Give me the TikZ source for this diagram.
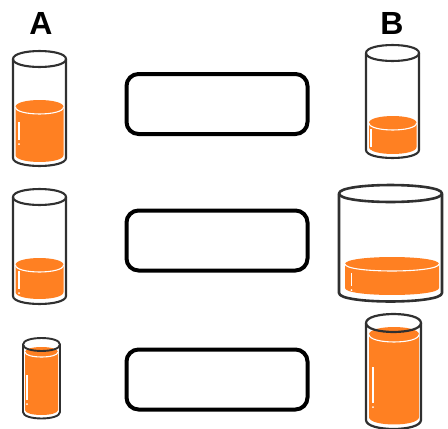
\documentclass[tikz,border=0pt]{standalone}
\usepackage{fontspec}
\setmainfont{Liberation Sans}
\definecolor{juice}{HTML}{FF8022}
\definecolor{ink}{HTML}{303030}
\tikzset{
  answerbox/.style={draw=black,line width=4pt,rounded corners=12pt,minimum width=181pt,minimum height=60pt,inner sep=0pt},
  head/.style={font=\bfseries\fontsize{32}{32}\selectfont,inner sep=0pt,text=black},
  glassline/.style={draw=ink,line join=round},
  gleam/.style={draw=white,line width=1.1pt}
}
\begin{document}
\begin{tikzpicture}[x=1pt,y=-1pt]
\useasboundingbox (0,0) rectangle (448,429);
\fill[white] (0,0) rectangle (448,429);
\node[head] (labelA) at (41,23) {A};
\node[head] (labelB) at (392,23) {B};
\node[answerbox] (box1) at (217,104) {};
\node[answerbox] (box2) at (217,240.5) {};
\node[answerbox] (box3) at (217,379.5) {};
% left/right/rim centre/rim ry/wall end/line width/
% liquid left/right/surface centre/surface ry/side end/gleam x/gleam top/gleam bottom
\foreach \l/\r/\c/\ry/\we/\lw/\ll/\lr/\sc/\sry/\se/\gx/\gt/\gb in {
  13/66/59/8/158/2.1/15.5/63.5/107/7/155/19/122/140,
  366/419/53/8/150/2.1/369/416.5/123/7/147/371/129/147,
  13/66/197/8/296/2.1/15.5/63.5/265/7/292/19/271/289,
  339/442/193.5/8.5/293/2.6/345/439/264/7/288/351.5/273/286,
  23/60/344.5/6.5/412/1.9/25/58/352/5/410/27/375/400,
  366/421/323/9/420/2.2/369/419/334.5/7.5/417/373/367/403}
{
  \fill[juice] (\ll,\sc) .. controls (\ll,{\sc-1.33*\sry}) and (\lr,{\sc-1.33*\sry}) .. (\lr,\sc)
     -- (\lr,\se) .. controls (\lr,{\se+1.33*\sry}) and (\ll,{\se+1.33*\sry}) .. (\ll,\se) -- cycle;
  \draw[gleam] (\ll,\sc) .. controls (\ll,{\sc+1.33*\sry}) and (\lr,{\sc+1.33*\sry}) .. (\lr,\sc);
  \draw[gleam,line width=1.6pt] (\gx,\gt) -- (\gx,\gb);
  \fill[white] (\gx,{\gb+4}) circle (1pt);
  \draw[glassline,line width=\lw pt] (\l,\c) -- (\l,\we) .. controls (\l,{\we+1.33*\ry}) and (\r,{\we+1.33*\ry}) .. (\r,\we) -- (\r,\c);
  \draw[glassline,line width=\lw pt] (\l,\c) .. controls (\l,{\c-1.33*\ry}) and (\r,{\c-1.33*\ry}) .. (\r,\c)
     .. controls (\r,{\c+1.33*\ry}) and (\l,{\c+1.33*\ry}) .. (\l,\c) -- cycle;
}
\end{tikzpicture}
\end{document}
